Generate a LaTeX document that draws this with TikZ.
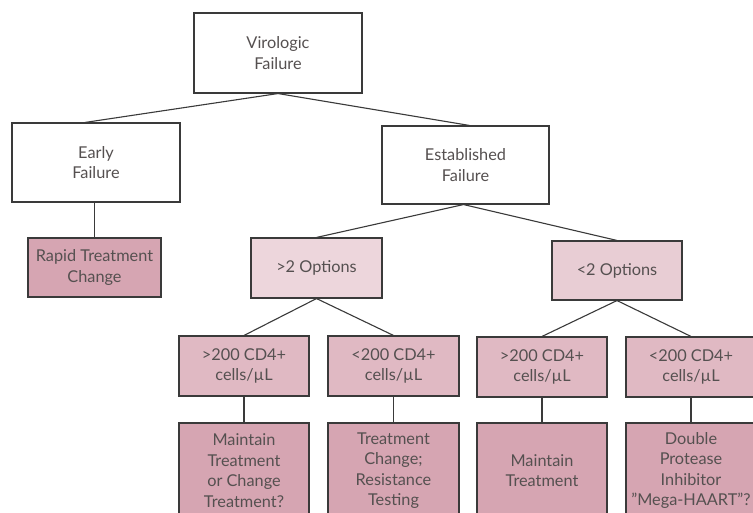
\documentclass[tikz,border=0pt]{standalone}
\usepackage{fontspec}
\setmainfont{Lato}
\definecolor{linec}{HTML}{3A3A3A}
\definecolor{txtc}{HTML}{555050}
\definecolor{darkpink}{HTML}{D6A5B2}
\definecolor{midpink}{HTML}{E0B9C3}
\definecolor{lightpink}{HTML}{EDD6DC}
\definecolor{lightpinkb}{HTML}{E8CDD4}
\tikzset{
  basebox/.style={draw=linec, line width=1.1pt, inner sep=0pt, align=center,
    text=txtc, font=\fontsize{16.3}{20.5}\selectfont},
  wbox/.style={basebox, fill=white},
  darkbox/.style={basebox, fill=darkpink},
  midbox/.style={basebox, fill=midpink},
  optbox/.style={basebox, fill=lightpink},
  optboxb/.style={basebox, fill=lightpinkb},
  conn/.style={draw=linec, line width=1.1pt}
}
\begin{document}
\begin{tikzpicture}[x=1pt,y=-1pt]
\useasboundingbox (0,0) rectangle (753,513);
\clip (0,0) rectangle (753,513);
\fill[white] (0,0) rectangle (753,513);

\node[wbox, minimum width=168pt, minimum height=80pt] (V) at (278,53) {Virologic\\Failure};
\node[wbox, minimum width=168pt, minimum height=79pt] (E) at (96,162.5) {Early\\Failure};
\node[wbox, minimum width=167pt, minimum height=78pt] (S) at (465.5,165) {Established\\Failure};

\node[darkbox, minimum width=133pt, minimum height=59pt] (R) at (94.5,267.5) {Rapid Treatment\\Change};
\node[optbox, minimum width=131pt, minimum height=60pt] (O1) at (316.5,268) {>2 Options};
\node[optboxb, minimum width=130pt, minimum height=59pt] (O2) at (617,270.5) {<2 Options};

\node[midbox, minimum width=130pt, minimum height=60pt] (A) at (244,366) {>200 CD4+\\cells/µL};
\node[midbox, minimum width=131pt, minimum height=60pt] (B) at (393.5,366) {<200 CD4+\\cells/µL};
\node[midbox, minimum width=130pt, minimum height=60pt] (C) at (542,367) {>200 CD4+\\cells/µL};
\node[midbox, minimum width=130pt, minimum height=60pt] (D) at (691,367) {<200 CD4+\\cells/µL};

\node[darkbox, minimum width=130pt, minimum height=95pt] (A4) at (244,470.5) {Maintain\\Treatment\\or Change\\Treatment?};
\node[darkbox, minimum width=131pt, minimum height=95pt] (B4) at (393.5,470.5) {Treatment\\Change;\\Resistance\\Testing};
\node[darkbox, minimum width=130pt, minimum height=95pt] (C4) at (542,470.5) {Maintain\\Treatment};
\node[darkbox, minimum width=130pt, minimum height=95pt] (D4) at (691,470.5) {Double\\Protease\\Inhibitor\\\char34 Mega-HAART\char34 ?};

\draw[conn] (V.south) -- ([xshift=-11pt]E.north);
\draw[conn] (V.south) -- ([xshift=4pt]S.north);
\draw[conn] (R.north) -- (R.north |- E.south);
\draw[conn] ([xshift=-2pt]S.south) -- (O1.north);
\draw[conn] ([xshift=-2pt]S.south) -- (O2.north);
\draw[conn] (O1.south) -- (A.north);
\draw[conn] (O1.south) -- (B.north);
\draw[conn] (O2.south) -- (C.north);
\draw[conn] (O2.south) -- (D.north);
\draw[conn] (A.south) -- (A4.north);
\draw[conn] (B.south) -- (B4.north);
\draw[conn] (C.south) -- (C4.north);
\draw[conn] (D.south) -- (D4.north);
\end{tikzpicture}
\end{document}
